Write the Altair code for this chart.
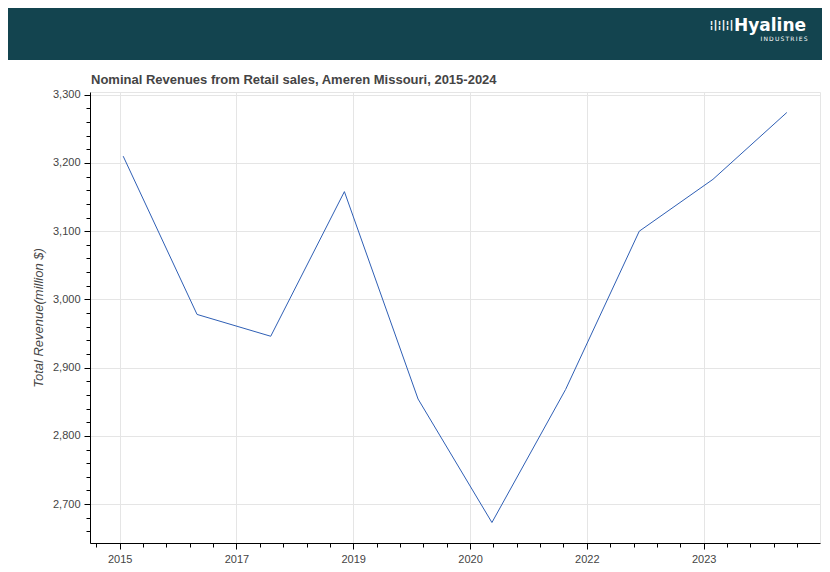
import altair as alt
import pandas as pd

# ---- data ----
dates = ["2015-12-31", "2016-12-31", "2017-12-31", "2018-12-31", "2019-12-31",
         "2020-12-31", "2021-12-31", "2022-12-31", "2023-12-31", "2024-12-31"]
revenue = [3210, 2978, 2946, 3158, 2854, 2673, 2868, 3100, 3176, 3274]

title_text = "Nominal Revenues from Retail sales, Ameren Missouri, 2015-2024"
y_title = "Total Revenue(million $)"
y_major = [2700, 2800, 2900, 3000, 3100, 3200, 3300]

FONT = "Liberation Sans"
TXT = "#444444"
GRID = "#e5e5e5"
HEADER = "#13444f"

ts = [int(pd.Timestamp(d, tz="UTC").timestamp() * 1000) for d in dates]
df = pd.DataFrame({"t": ts, "revenue": revenue})
one = pd.DataFrame({"k": [0]})  # single row for decoration marks

# scale domains with 10% range padding (like the original)
tpad = 0.05 * (max(ts) - min(ts))
x_domain = [min(ts) - tpad, max(ts) + tpad]
ypad = 0.05 * (max(revenue) - min(revenue))
y_domain = [min(revenue) - ypad, max(revenue) + ypad]

x_major = [k * 5e10 for k in range(29, 35)]
x_minor = [k * 1e10 for k in range(144, 175)]
y_minor = [v for v in range(2660, 3301, 20)]

xs = alt.Scale(type="utc", domain=x_domain, nice=False)
ys = alt.Scale(domain=y_domain, nice=False, zero=False)

base = alt.Chart(df)

main = base.mark_line(color="#2f5fb5", strokeWidth=1).encode(
    x=alt.X("t:T", scale=xs, axis=alt.Axis(
        values=x_major, format="%Y", title=None, orient="bottom",
        labelFont=FONT, labelFontSize=11, labelColor=TXT, labelPadding=4,
        labelFlush=False, tickColor="black", tickSize=6, domainColor="black",
        gridColor=GRID, grid=True)),
    y=alt.Y("revenue:Q", scale=ys, axis=alt.Axis(
        values=y_major, format=",d", title=y_title, orient="left",
        labelFont=FONT, labelFontSize=11, labelColor=TXT, labelPadding=4,
        tickColor="black", tickSize=6, domainColor="black",
        gridColor=GRID, grid=True,
        titleFont=FONT, titleFontSize=13, titleFontStyle="italic",
        titleFontWeight="normal", titleColor=TXT, titlePadding=7)),
)

minor = base.mark_line(opacity=0).encode(
    x=alt.X("t:T", scale=xs, axis=alt.Axis(
        values=x_minor, labels=False, domain=False, grid=False, title=None,
        orient="bottom", tickColor="black", tickSize=4)),
    y=alt.Y("revenue:Q", scale=ys, axis=alt.Axis(
        values=y_minor, labels=False, domain=False, grid=False, title=None,
        orient="left", tickColor="black", tickSize=4)),
)

header = alt.Chart(one).mark_rect(color=HEADER).encode(
    x=alt.value(-90), x2=alt.value(740), y=alt.value(-95), y2=alt.value(-32)
)
logo_icon = alt.Chart(one).mark_text(
    text="\u00a6|\u00a6|\u00a6|", color="white", font="DejaVu Sans", fontSize=11,
    fontWeight="bold", align="center", baseline="middle"
).encode(x=alt.value(631.5), y=alt.value(-67.5))
logo_name = alt.Chart(one).mark_text(
    text="Hyaline", color="white", font="DejaVu Sans", fontSize=17,
    fontWeight="bold", align="left", baseline="alphabetic"
).encode(x=alt.value(644), y=alt.value(-61))
logo_sub = alt.Chart(one).mark_text(
    text="I\u2009N\u2009D\u2009U\u2009S\u2009T\u2009R\u2009I\u2009E\u2009S",
    color="white", font="DejaVu Sans", fontSize=6,
    align="right", baseline="alphabetic"
).encode(x=alt.value(717.5), y=alt.value(-50.7))
title = alt.Chart(one).mark_text(
    text=title_text, color=TXT, font=FONT, fontSize=13, fontWeight="bold",
    align="left", baseline="alphabetic"
).encode(x=alt.value(1), y=alt.value(-8))

chart = alt.layer(
    header, logo_icon, logo_name, logo_sub, title, minor, main
).resolve_axis(x="independent", y="independent").properties(
    width=730, height=451,
    autosize=alt.AutoSizeParams(type="none"),
    padding={"left": 82, "top": 84, "right": 2, "bottom": 21},
).configure_view(stroke=GRID, strokeWidth=1)

chart.save("out.html", embed_options={"renderer": "svg", "actions": False})
